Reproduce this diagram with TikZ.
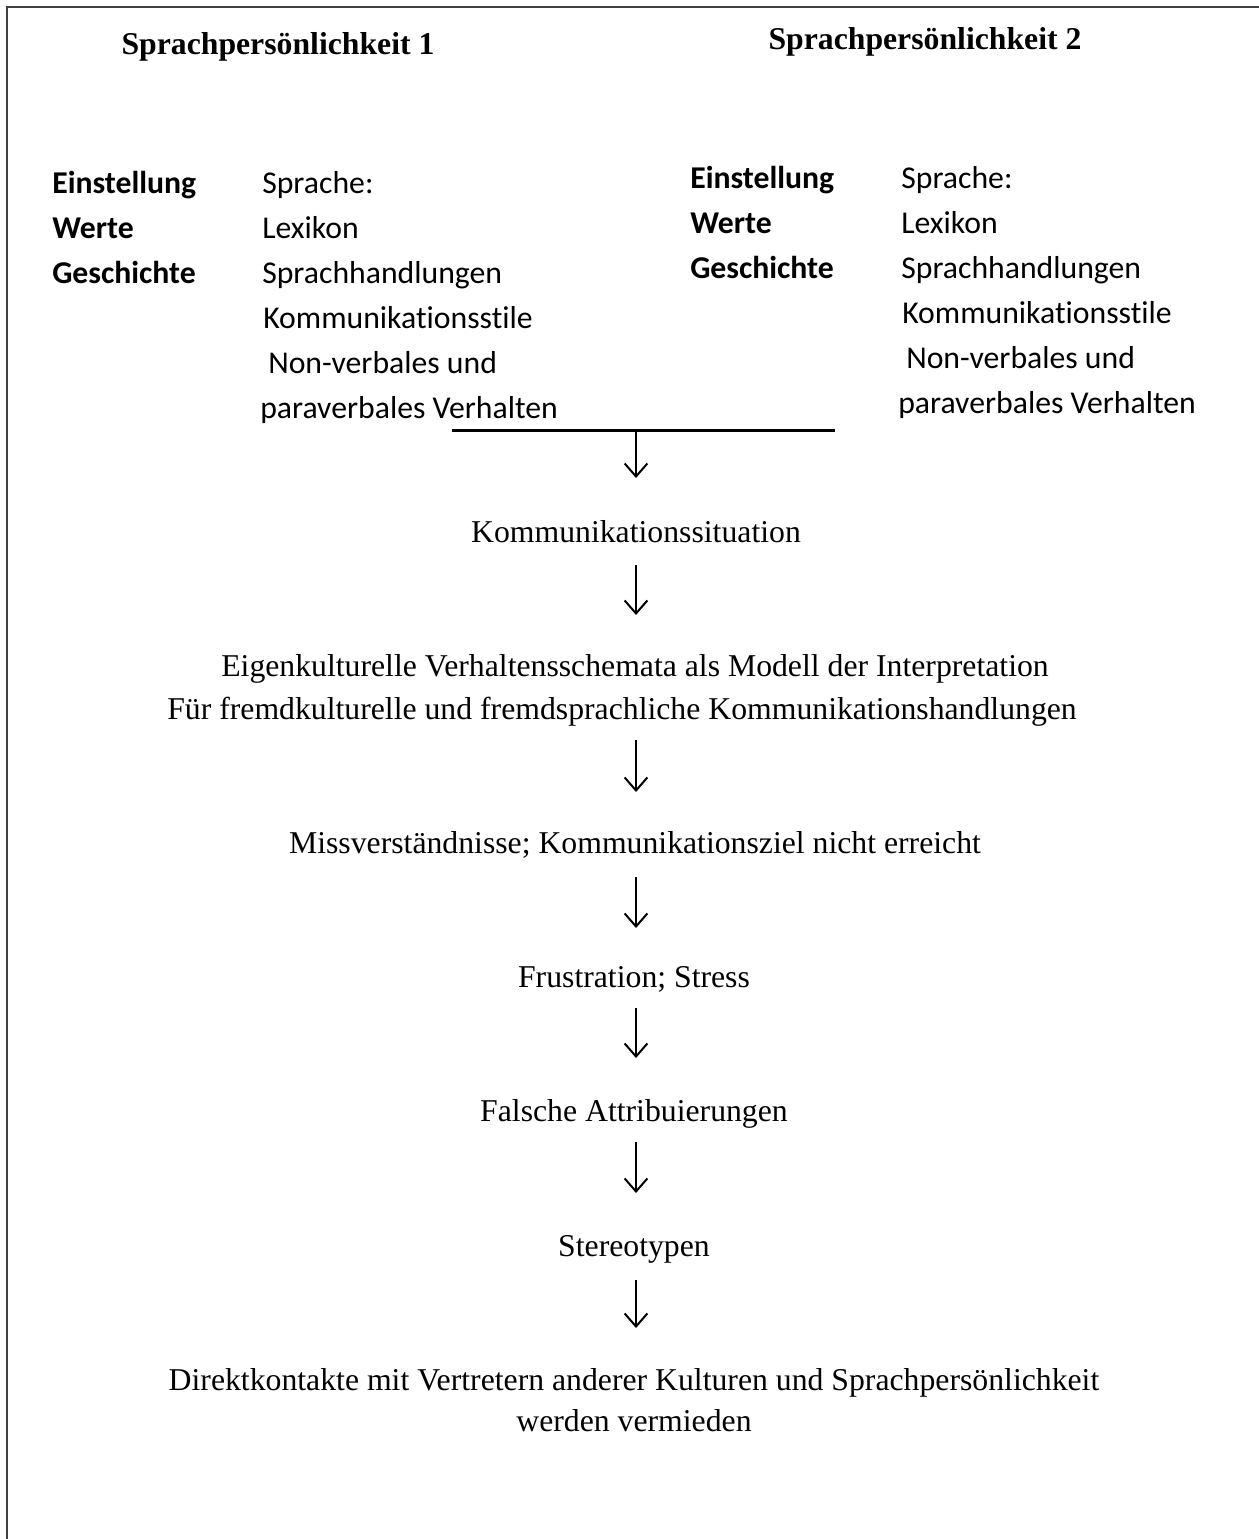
\documentclass[tikz,border=0pt]{standalone}
\usepackage{fontspec}
\setmainfont{Liberation Serif}
\newfontfamily\calfont[Ligatures=NoCommon]{Carlito}
\usetikzlibrary{arrows.meta,calc}
\tikzset{
  ser/.style={anchor=base,inner sep=0pt,font=\fontsize{23.8}{33.75}\selectfont},
  ttl/.style={anchor=base,inner sep=0pt,font=\fontsize{23.8}{33.75}\selectfont\bfseries},
  lbl/.style={anchor=base west,inner sep=0pt,font=\calfont\fontsize{23.8}{33.75}\selectfont\bfseries},
  itm/.style={anchor=base west,inner sep=0pt,font=\calfont\fontsize{23.8}{33.75}\selectfont},
  arr/.style={line width=1.5pt,-{Straight Barb[length=9.75pt,width=17pt,line width=1.5pt]}},
  framel/.style={draw=black!75,line width=1.6pt},
}
\begin{document}
\begin{tikzpicture}[x=0.75pt,y=-0.75pt]
\useasboundingbox (0,0) rectangle (1258,1539);
\draw[framel] (7,1560) -- (7,7) -- (1280,7);
% titles
\node[ttl] (t1) at (278,54) {Sprachpersönlichkeit 1};
\node[ttl] (t2) at (925,49) {Sprachpersönlichkeit 2};
% left block
\node[lbl] (l1) at (52,193) {Einstellung};
\node[lbl] (l2) at (52,238) {Werte};
\node[lbl] (l3) at (52,283) {Geschichte};
\node[itm] (a1) at (262,193) {Sprache:};
\node[itm] (a2) at (262,238) {Lexikon};
\node[itm] (a3) at (262,283) {Sprachhandlungen};
\node[itm] (a4) at (263,328) {Kommunikationsstile};
\node[itm] (a5) at (268,373) {Non-verbales und};
\node[itm] (a6) at (260,418) {paraverbales Verhalten};
% right block
\node[lbl] (r1) at (690,188) {Einstellung};
\node[lbl] (r2) at (690,233) {Werte};
\node[lbl] (r3) at (690,278) {Geschichte};
\node[itm] (b1) at (901,188) {Sprache:};
\node[itm] (b2) at (901,233) {Lexikon};
\node[itm] (b3) at (901,278) {Sprachhandlungen};
\node[itm] (b4) at (902,323) {Kommunikationsstile};
\node[itm] (b5) at (906,368) {Non-verbales und};
\node[itm] (b6) at (898,413) {paraverbales Verhalten};
% bar
\coordinate (bl) at (452,430);
\coordinate (br) at (835,430);
\coordinate (bm) at (636,430);
\draw[line width=2.25pt] (bl) -- (br);
% chain
\node[ser] (k) at (636,542) {Kommunikationssituation};
\node[ser] (e1) at (635,676) {Eigenkulturelle Verhaltensschemata als Modell der Interpretation};
\node[ser] (e2) at (622,719) {Für fremdkulturelle und fremdsprachliche Kommunikationshandlungen};
\node[ser] (m) at (635,853) {Missverständnisse; Kommunikationsziel nicht erreicht};
\node[ser] (fs) at (634,987) {Frustration; Stress};
\node[ser] (fa) at (634,1121) {Falsche Attribuierungen};
\node[ser] (st) at (634,1256) {Stereotypen};
\node[ser] (d1) at (634,1390) {Direktkontakte mit Vertretern anderer Kulturen und Sprachpersönlichkeit};
\node[ser] (d2) at (634,1431) {werden vermieden};
% arrows
\draw[arr] (bm) -- ($(bm|-k.base)+(0,-64)$);
\draw[arr] ($(bm|-k.base)+(0,23)$) -- ($(bm|-e1.base)+(0,-61)$);
\draw[arr] ($(bm|-e2.base)+(0,21)$) -- ($(bm|-m.base)+(0,-61)$);
\draw[arr] ($(bm|-m.base)+(0,24)$) -- ($(bm|-fs.base)+(0,-59)$);
\draw[arr] ($(bm|-fs.base)+(0,21)$) -- ($(bm|-fa.base)+(0,-63)$);
\draw[arr] ($(bm|-fa.base)+(0,21)$) -- ($(bm|-st.base)+(0,-63)$);
\draw[arr] ($(bm|-st.base)+(0,24)$) -- ($(bm|-d1.base)+(0,-62)$);
\end{tikzpicture}
\end{document}
